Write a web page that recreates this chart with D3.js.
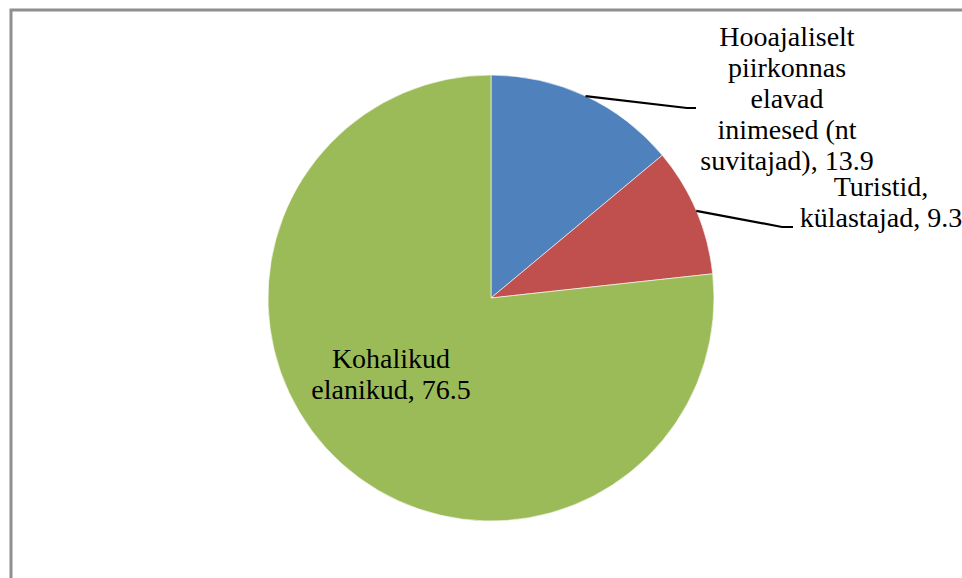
<!DOCTYPE html>
<html lang="et">
<head>
<meta charset="utf-8">
<title>Pie</title>
<script src="https://cdn.jsdelivr.net/npm/d3@7"></script>
<style>
  body { margin: 0; background: #fff; }
  text { font-family: "Liberation Serif", "Times New Roman", serif; font-size: 28px; fill: #000; }
</style>
</head>
<body>
<div id="chart"></div>
<script>
// slice data, clockwise from 12 o'clock
var categories = ["Hooajaliselt piirkonnas elavad inimesed (nt suvitajad)", "Turistid, külastajad", "Kohalikud elanikud"];
var values = [13.9, 9.3, 76.5];
var colors = ["#4F81BD", "#C0504D", "#9BBB59"];
// label text, split into lines as in the picture
var labelLines = [
  ["Hooajaliselt", "piirkonnas", "elavad", "inimesed (nt", "suvitajad), 13.9"],
  ["Turistid,", "külastajad, 9.3"],
  ["Kohalikud", "elanikud, 76.5"]
];

var width = 962, height = 578;
var cx = 491, cy = 298, r = 223;

// where each label block sits (centre x, first baseline) and whether it has a leader line
var labelLayout = [
  {x: 787, y: 46, leader: [[687, 108], [696, 108]]},
  {x: 881, y: 196, leader: [[782, 227], [793, 227]]},
  {x: 391, y: 368, leader: null}
];
var lineHeight = 31;

var svg = d3.select("#chart").append("svg")
    .attr("width", width)
    .attr("height", height);

// frame (only top and left edges are visible in the window)
svg.append("rect")
    .attr("x", 11).attr("y", 10)
    .attr("width", width + 20).attr("height", height + 20)
    .attr("fill", "none")
    .attr("stroke", "#8f8f8f")
    .attr("stroke-width", 3);

var pie = d3.pie().sort(null).value(function(d) { return d; });
var arcs = pie(values);
var arc = d3.arc().innerRadius(0).outerRadius(r);

var g = svg.append("g").attr("transform", "translate(" + cx + "," + cy + ")");

g.selectAll("path")
    .data(arcs)
    .enter()
    .append("path")
    .attr("d", arc)
    .attr("fill", function(d, i) { return colors[i]; })
    .attr("stroke", "#fff")
    .attr("stroke-width", 0.6);

// leader lines start on the rim at the slice's middle angle
arcs.forEach(function(d, i) {
  var lay = labelLayout[i];
  if (!lay.leader) return;
  var a = (d.startAngle + d.endAngle) / 2;
  var start = [cx + r * Math.sin(a), cy - r * Math.cos(a)];
  var pts = [start].concat(lay.leader);
  svg.append("path")
      .attr("d", d3.line()(pts))
      .attr("fill", "none")
      .attr("stroke", "#000")
      .attr("stroke-width", 2.2);
});

labelLines.forEach(function(lines, i) {
  var lay = labelLayout[i];
  var t = svg.append("text")
      .attr("text-anchor", "middle")
      .attr("x", lay.x)
      .attr("y", lay.y);
  lines.forEach(function(line, j) {
    t.append("tspan")
        .attr("x", lay.x)
        .attr("y", lay.y + j * lineHeight)
        .text(line);
  });
});
</script>
</body>
</html>
